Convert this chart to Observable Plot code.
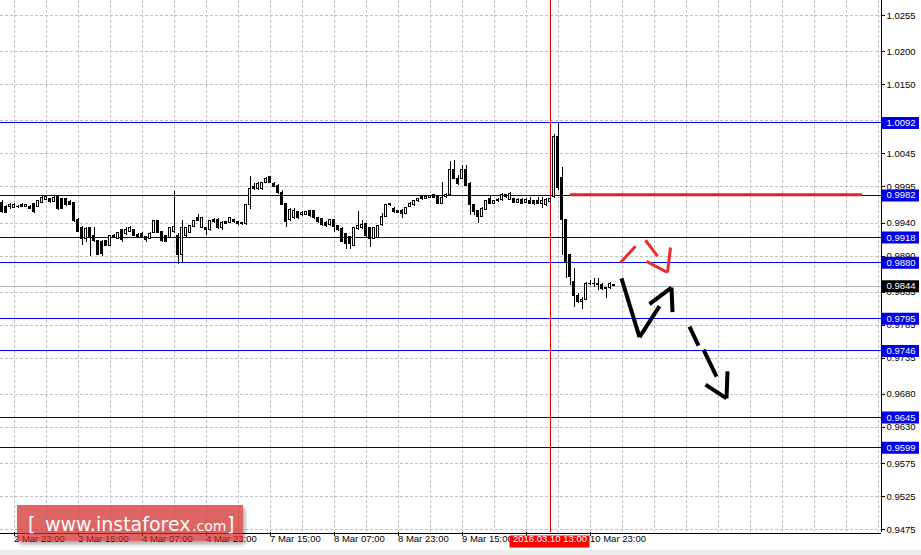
<!DOCTYPE html>
<html><head><meta charset="utf-8">
<script src="https://cdn.jsdelivr.net/npm/d3@7"></script>
<script src="https://cdn.jsdelivr.net/npm/@observablehq/plot@0.6"></script>
<style>
html,body{margin:0;padding:0;background:#fff;}
#wrap{position:relative;width:921px;height:555px;overflow:hidden;}
#strip{position:absolute;left:0;top:550px;width:921px;height:5px;background:#ececec;}
#logo{position:absolute;left:17px;top:505px;width:226px;height:36px;background:rgba(210,40,40,0.72);box-shadow:2px 3px 4px rgba(0,0,0,0.35);}
#logo span{position:absolute;color:#fff;font-family:"DejaVu Sans";white-space:pre;line-height:1;}
</style></head><body>
<div id="wrap"></div>
<script>
// ---- candle data (H1), bar index 0 = first visible bar ----
const open = [
.9970,.9964,.9964,.9963,.9965,.9968,.9964,.9964,.9969,.9964,
.9970,.9975,.9977,.9972,.9980,.9977,.9976,.9972,.9970,.9945,
.9933,.9916,.9932,.9920,.9913,.9912,.9913,.9906,.9921,.9916,
.9929,.9923,.9926,.9930,.9922,.9923,.9919,.9916,.9925,.9943,
.9926,.9920,.9918,.9926,.9920,.9892,.9920,.9925,.9934,.9947,
.9933,.9933,.9929,.9944,.9945,.9933,.9942,.9940,.9945,.9942,
.9940,.9938,.9967,.9995,.9991,.9991,1.0001,1.0010,1.0000,.9997,
.9986,.9969,.9944,.9947,.9957,.9952,.9953,.9958,.9958,.9947,
.9946,.9940,.9937,.9944,.9935,.9931,.9923,.9919,.9906,.9931,
.9932,.9938,.9933,.9916,.9918,.9937,.9949,.9967,.9962,.9958,
.9959,.9954,.9964,.9967,.9973,.9980,.9977,.9978,.9982,.9981,
.9969,.9980,.9982,1.0020,1.0007,1.0007,1.0021,1.0000,.9967,.9958,
.9949,.9960,.9977,.9969,.9973,.9975,.9982,.9975,.9977,.9970,
.9975,.9970,.9974,.9973,.9973,.9969,.9967,.9972,.9979,1.0071,
1.0008,.9944,.9891,.9850,.9830,.9820,.9824,.9848,.9848,.9848,
.9846,.9841,.9841,.9846];
const high = [
.9975,.9967,.9969,.9970,.9967,.9970,.9968,.9967,.9970,.9974,
.9980,.9981,.9978,.9980,.9981,.9978,.9977,.9974,.9972,.9947,
.9935,.9933,.9934,.9933,.9914,.9913,.9914,.9921,.9923,.9926,
.9930,.9934,.9935,.9931,.9924,.9925,.9920,.9925,.9944,.9944,
.9927,.9921,.9934,.9988,.9924,.9944,.9934,.9937,.9944,.9953,
.9949,.9934,.9944,.9947,.9947,.9942,.9943,.9948,.9946,.9943,
.9941,.9968,1.0011,1.0000,1.0002,1.0002,1.0009,1.0011,1.0001,.9999,
.9990,.9970,.9962,.9962,.9958,.9957,.9958,.9959,.9959,.9948,
.9947,.9942,.9946,.9946,.9937,.9933,.9924,.9920,.9934,.9957,
.9944,.9939,.9934,.9934,.9937,.9955,.9968,.9970,.9963,.9959,
.9960,.9964,.9972,.9974,.9978,.9981,.9981,.9982,.9984,.9982,
1.0001,.9985,1.0033,1.0035,1.0012,1.0028,1.0028,1.0002,.9968,.9959,
.9963,.9975,.9980,.9975,.9977,.9985,.9984,.9986,.9978,.9977,
.9977,.9977,.9979,.9974,.9979,.9979,.9977,.9978,1.0075,1.0091,
1.0024,.9944,.9892,.9871,.9833,.9827,.9850,.9853,.9856,.9856,
.9849,.9842,.9850,.9847];
const low = [
.9955,.9954,.9961,.9962,.9962,.9963,.9963,.9961,.9955,.9963,
.9969,.9974,.9970,.9971,.9959,.9960,.9965,.9967,.9941,.9925,
.9906,.9911,.9890,.9911,.9891,.9890,.9905,.9905,.9916,.9915,
.9911,.9921,.9925,.9920,.9918,.9917,.9911,.9915,.9924,.9924,
.9911,.9910,.9916,.9924,.9877,.9878,.9918,.9924,.9933,.9942,
.9932,.9921,.9928,.9940,.9931,.9929,.9938,.9939,.9940,.9937,
.9937,.9937,.9960,.9989,.9990,.9990,1.0000,1.0000,.9994,.9984,
.9967,.9934,.9942,.9946,.9946,.9950,.9952,.9949,.9945,.9940,
.9935,.9934,.9935,.9925,.9928,.9910,.9900,.9900,.9905,.9929,
.9930,.9918,.9903,.9915,.9916,.9935,.9948,.9965,.9955,.9954,
.9947,.9953,.9963,.9965,.9972,.9974,.9976,.9977,.9977,.9968,
.9968,.9978,.9981,1.0006,.9997,1.0006,.9995,.9952,.9952,.9939,
.9948,.9959,.9968,.9968,.9972,.9973,.9978,.9974,.9969,.9969,
.9968,.9969,.9968,.9967,.9968,.9962,.9965,.9970,.9977,.9990,
.9891,.9856,.9845,.9812,.9818,.9809,.9823,.9845,.9842,.9838,
.9838,.9826,.9840,.9844];
const close = [
.9957,.9956,.9967,.9968,.9964,.9964,.9967,.9962,.9957,.9973,
.9978,.9980,.9972,.9978,.9961,.9962,.9967,.9968,.9943,.9926,
.9916,.9931,.9918,.9913,.9892,.9893,.9906,.9920,.9918,.9925,
.9914,.9930,.9933,.9921,.9919,.9918,.9915,.9924,.9943,.9925,
.9913,.9911,.9933,.9934,.9892,.9933,.9933,.9935,.9943,.9943,
.9948,.9929,.9943,.9942,.9933,.9940,.9939,.9947,.9941,.9938,
.9938,.9967,.9991,.9991,1.0000,1.0001,1.0007,1.0001,.9995,.9985,
.9968,.9942,.9960,.9959,.9947,.9955,.9957,.9951,.9947,.9942,
.9937,.9935,.9944,.9934,.9929,.9911,.9909,.9908,.9933,.9935,
.9937,.9920,.9916,.9933,.9935,.9949,.9967,.9969,.9957,.9955,
.9954,.9963,.9969,.9973,.9977,.9976,.9980,.9981,.9978,.9969,
.9978,.9982,1.0020,1.0007,1.0000,1.0020,.9996,.9967,.9957,.9949,
.9962,.9974,.9969,.9974,.9975,.9982,.9980,.9984,.9970,.9975,
.9969,.9975,.9969,.9969,.9969,.9974,.9975,.9977,1.0071,.9993,
.9944,.9879,.9858,.9830,.9820,.9824,.9848,.9847,.9847,.9846,
.9840,.9840,.9848,.9844];

// ---- axes ----
const priceTicks = [1.0255,1.0200,1.0150,1.0095,1.0045,0.9995,0.9940,0.9890,0.9835,0.9785,0.9735,0.9680,0.9630,0.9575,0.9525,0.9475];
const hiddenPriceLabels = [1.0095];
const timeTickBars = [3,19,35,51,67,83,99,115,131,147];
const timeLabels = ["2 Mar 23:00","3 Mar 15:00","4 Mar 07:00","4 Mar 23:00","7 Mar 15:00","8 Mar 07:00","8 Mar 23:00","9 Mar 15:00","","10 Mar 23:00"];

// ---- levels & drawings ----
const levelPrices = [1.0092,0.9982,0.9918,0.9880,0.9795,0.9746,0.9645,0.9599];
const levelLabels = ["1.0092","0.9982","0.9918","0.9880","0.9795","0.9746","0.9645","0.9599"];
const bidPrice = 0.9844;
const cursorBar = 137;
const cursorLabel = "2016.03.10 13:00";
const resistance = {from: 142.5, to: 215.5, price: 0.9983};
const redSegX1 = [155, 161.25, 161.5, 166.75];
const redSegY1 = [.9880, .9914, .9882, .9865];
const redSegX2 = [158.75, 164.25, 166.75, 167.5];
const redSegY2 = [.9905, .9890, .9865, .9903];
const blackSegX1 = [155.25, 159.75, 162.25, 167.75, 172.25, 175.75, 176.25, 181.5];
const blackSegY1 = [.9856, .9767, .9817, .9842, .9783, .9748, .9695, .9674];
const blackSegX2 = [159.75, 164.75, 167.75, 168, 174.5, 179, 181.5, 181.75];
const blackSegY2 = [.9767, .9814, .9842, .9805, .9754, .9707, .9674, .9715];

// ---- build ----
const yMin = 0.94705, yMax = 1.02778, xMax = 220.25;
const candles = open.map((o, i) => ({i, o, h: high[i], l: low[i], c: close[i]}));
const bulls = candles.filter(d => d.c >= d.o);
const bears = candles.filter(d => d.c < d.o);
const gridBars = d3.range(3, 220, 8);
const darkLevels = new Set([0.9982, 0.9918, 0.9645, 0.9599]);
const levels = levelPrices.map((v, k) => ({v, t: levelLabels[k]}));
const boxes = [...levels.map(d => ({...d, col: "#0000e8"})), {v: bidPrice, t: bidPrice.toFixed(4), col: "#000000"}];
const segs = (X1, Y1, X2, Y2) => X1.map((x, k) => ({x1: x, y1: Y1[k], x2: X2[k], y2: Y2[k]}));
const redSegs = segs(redSegX1, redSegY1, redSegX2, redSegY2);
const blackSegs = segs(blackSegX1, blackSegY1, blackSegX2, blackSegY2);
const shownPriceLabels = priceTicks.filter(v => !hiddenPriceLabels.includes(v));
const timeTicks = timeTickBars.map((b, k) => ({b, t: timeLabels[k]})).filter(d => d.t);

const chart = Plot.plot({
  width: 921, height: 555,
  marginTop: 0, marginBottom: 23, marginLeft: 0, marginRight: 40,
  x: {domain: [0, xMax], axis: null},
  y: {domain: [yMin, yMax], axis: null},
  style: {fontFamily: "Liberation Sans", fontSize: "9.5px", background: "white", color: "black", overflow: "visible"},
  marks: [
    Plot.ruleX(gridBars, {x: d => d + 0.375, stroke: "#c0c0c0", strokeDasharray: "3,2", shapeRendering: "crispEdges"}),
    Plot.ruleY(priceTicks, {y: d => d, x1: 0, x2: xMax, stroke: "#c0c0c0", strokeDasharray: "3,2", shapeRendering: "crispEdges"}),
    Plot.ruleY(levels, {y: "v", x1: 0, x2: xMax, stroke: d => darkLevels.has(d.v) ? "#00008c" : "#0000ff", strokeWidth: 1, shapeRendering: "crispEdges"}),
    Plot.ruleY([bidPrice], {y: d => d, x1: 0, x2: xMax, stroke: "#b4b4b4", shapeRendering: "crispEdges"}),
    Plot.ruleX([cursorBar], {x: d => d + 0.375, stroke: "#e00000", shapeRendering: "crispEdges"}),
    Plot.ruleY([resistance], {y: "price", x1: "from", x2: "to", stroke: "#e8202a", strokeWidth: 3}),
    Plot.ruleX(candles, {x: d => d.i + 0.375, y1: "l", y2: "h", stroke: "black", shapeRendering: "crispEdges"}),
    Plot.rect(bears, {x1: d => d.i, x2: d => d.i + 0.75, y1: "o", y2: "c", fill: "black", insetTop: -0.5, insetBottom: -0.5, shapeRendering: "crispEdges"}),
    Plot.rect(bulls, {x1: d => d.i + 0.125, x2: d => d.i + 0.625, y1: "o", y2: "c", fill: "white", stroke: "black", strokeWidth: 1, shapeRendering: "crispEdges"}),
    Plot.link(redSegs, {x1: "x1", y1: "y1", x2: "x2", y2: "y2", stroke: "#ee2a2a", strokeWidth: 3}),
    Plot.link(blackSegs, {x1: "x1", y1: "y1", x2: "x2", y2: "y2", stroke: "black", strokeWidth: 4}),
    // frame lines
    Plot.ruleX([xMax], {x: d => d, stroke: "black", dx: -0.5, shapeRendering: "crispEdges"}),
    Plot.ruleY([yMin], {y: d => d, x1: 0, x2: xMax, stroke: "black", dy: 0.5, shapeRendering: "crispEdges"}),
    // right axis
    Plot.ruleY(priceTicks, {y: d => d, x1: xMax, x2: xMax + 1, stroke: "black", shapeRendering: "crispEdges"}),
    Plot.text(shownPriceLabels, {y: d => d, text: d => d.toFixed(4), frameAnchor: "right", dx: 5, textAnchor: "start", fill: "black"}),
    Plot.ruleY(boxes, {y: "v", x1: xMax + 0.125, x2: xMax + 9.5, stroke: "col", strokeWidth: 12}),
    Plot.text(boxes, {y: "v", text: "t", frameAnchor: "right", dx: 5, textAnchor: "start", fill: "white"}),
    // bottom axis
    Plot.ruleX(timeTickBars, {x: d => d + 0.375, y1: yMin, y2: yMin - 0.0006, stroke: "black", shapeRendering: "crispEdges"}),
    Plot.text(timeTicks, {x: d => d.b + 0.375, text: "t", frameAnchor: "bottom", dy: 9, textAnchor: "start", fill: "black"}),
    Plot.ruleY([cursorBar], {y: () => yMin, x1: d => d + 0.375 - 10, x2: d => d + 0.375 + 10, dy: 9, stroke: "#ff0000", strokeWidth: 12}),
    Plot.text([cursorLabel], {x: cursorBar + 0.375, text: d => d, frameAnchor: "bottom", dy: 9, fill: "white"})
  ]
});
const wrap = document.getElementById("wrap");
wrap.appendChild(chart);
const strip = document.createElement("div"); strip.id = "strip"; wrap.appendChild(strip);
const logo = document.createElement("div"); logo.id = "logo";
logo.innerHTML = '<span style="left:11px;top:10px;font-size:19px">[</span>' +
  '<span style="left:28px;top:10px;font-size:19px">www.instaforex</span>' +
  '<span style="left:175px;top:14px;font-size:14px">.com</span>' +
  '<span style="left:210px;top:10px;font-size:19px">]</span>';
wrap.appendChild(logo);
</script></body></html>
